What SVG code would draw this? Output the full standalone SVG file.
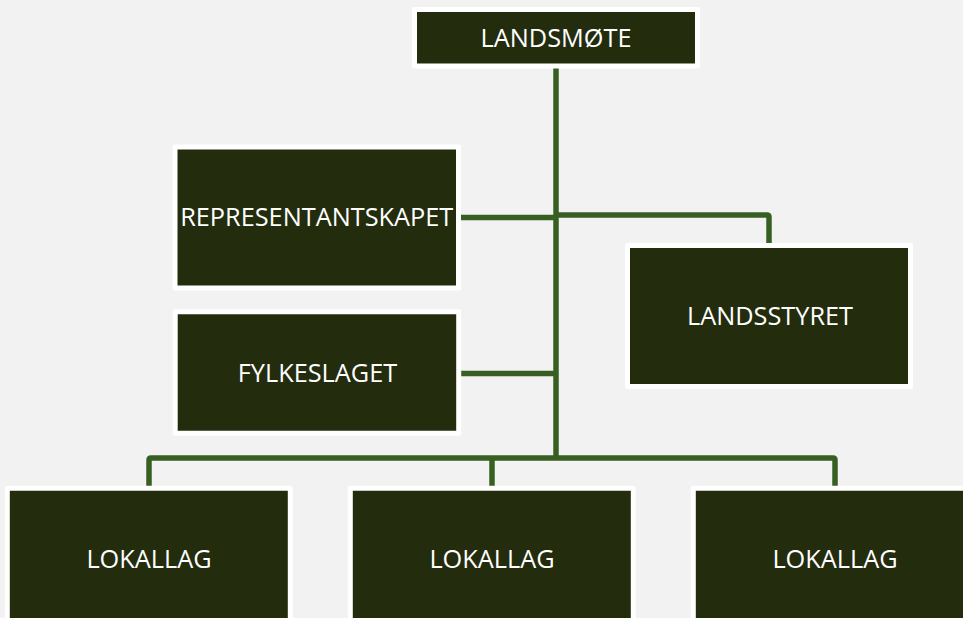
<svg xmlns="http://www.w3.org/2000/svg" width="963" height="618" viewBox="0 0 963 618">
<style>
.box{fill:#242C0E;stroke:#FFFFFF;stroke-width:5;stroke-linejoin:round}
.lbl{font-family:"Open Sans","Liberation Sans",sans-serif;font-size:25.3px;fill:#FFFFFF;text-anchor:middle}
.con{fill:none;stroke:#375F22;stroke-width:5.5;stroke-linejoin:round}
</style>
<rect x="0" y="0" width="963" height="618" fill="#F2F2F2"/>
<g id="connectors">
<path class="con" d="M556,68 V458"/>
<path class="con" d="M461,217.5 H556"/>
<path class="con" d="M556,215 H767 Q769,215 769,217 V243"/>
<path class="con" d="M461,373.5 H556"/>
<path class="con" d="M149,486 V460 Q149,458 151,458 H833 Q835,458 835,460 V486"/>
<path class="con" d="M492,458 V486"/>
</g>
<g id="landsmote">
<rect class="box" x="414.5" y="9.5" width="283" height="56.5"/>
<text class="lbl" x="556" y="46.5">LANDSMØTE</text>
</g>
<g id="representantskapet">
<rect class="box" x="175" y="147" width="283.5" height="141"/>
<text class="lbl" x="316.7" y="226">REPRESENTANTSKAPET</text>
</g>
<g id="landsstyret">
<rect class="box" x="627.5" y="245.5" width="283" height="141"/>
<text class="lbl" x="770" y="325">LANDSSTYRET</text>
</g>
<g id="fylkeslaget">
<rect class="box" x="175.2" y="311.8" width="283.5" height="121.5"/>
<text class="lbl" x="317.5" y="381.7">FYLKESLAGET</text>
</g>
<g id="lokallag1">
<rect class="box" x="7.3" y="488.2" width="283" height="150"/>
<text class="lbl" x="149" y="567.7">LOKALLAG</text>
</g>
<g id="lokallag2">
<rect class="box" x="350.3" y="488.2" width="283" height="150"/>
<text class="lbl" x="492" y="567.7">LOKALLAG</text>
</g>
<g id="lokallag3">
<rect class="box" x="693.3" y="488.2" width="283" height="150"/>
<text class="lbl" x="835" y="567.7">LOKALLAG</text>
</g>
</svg>
